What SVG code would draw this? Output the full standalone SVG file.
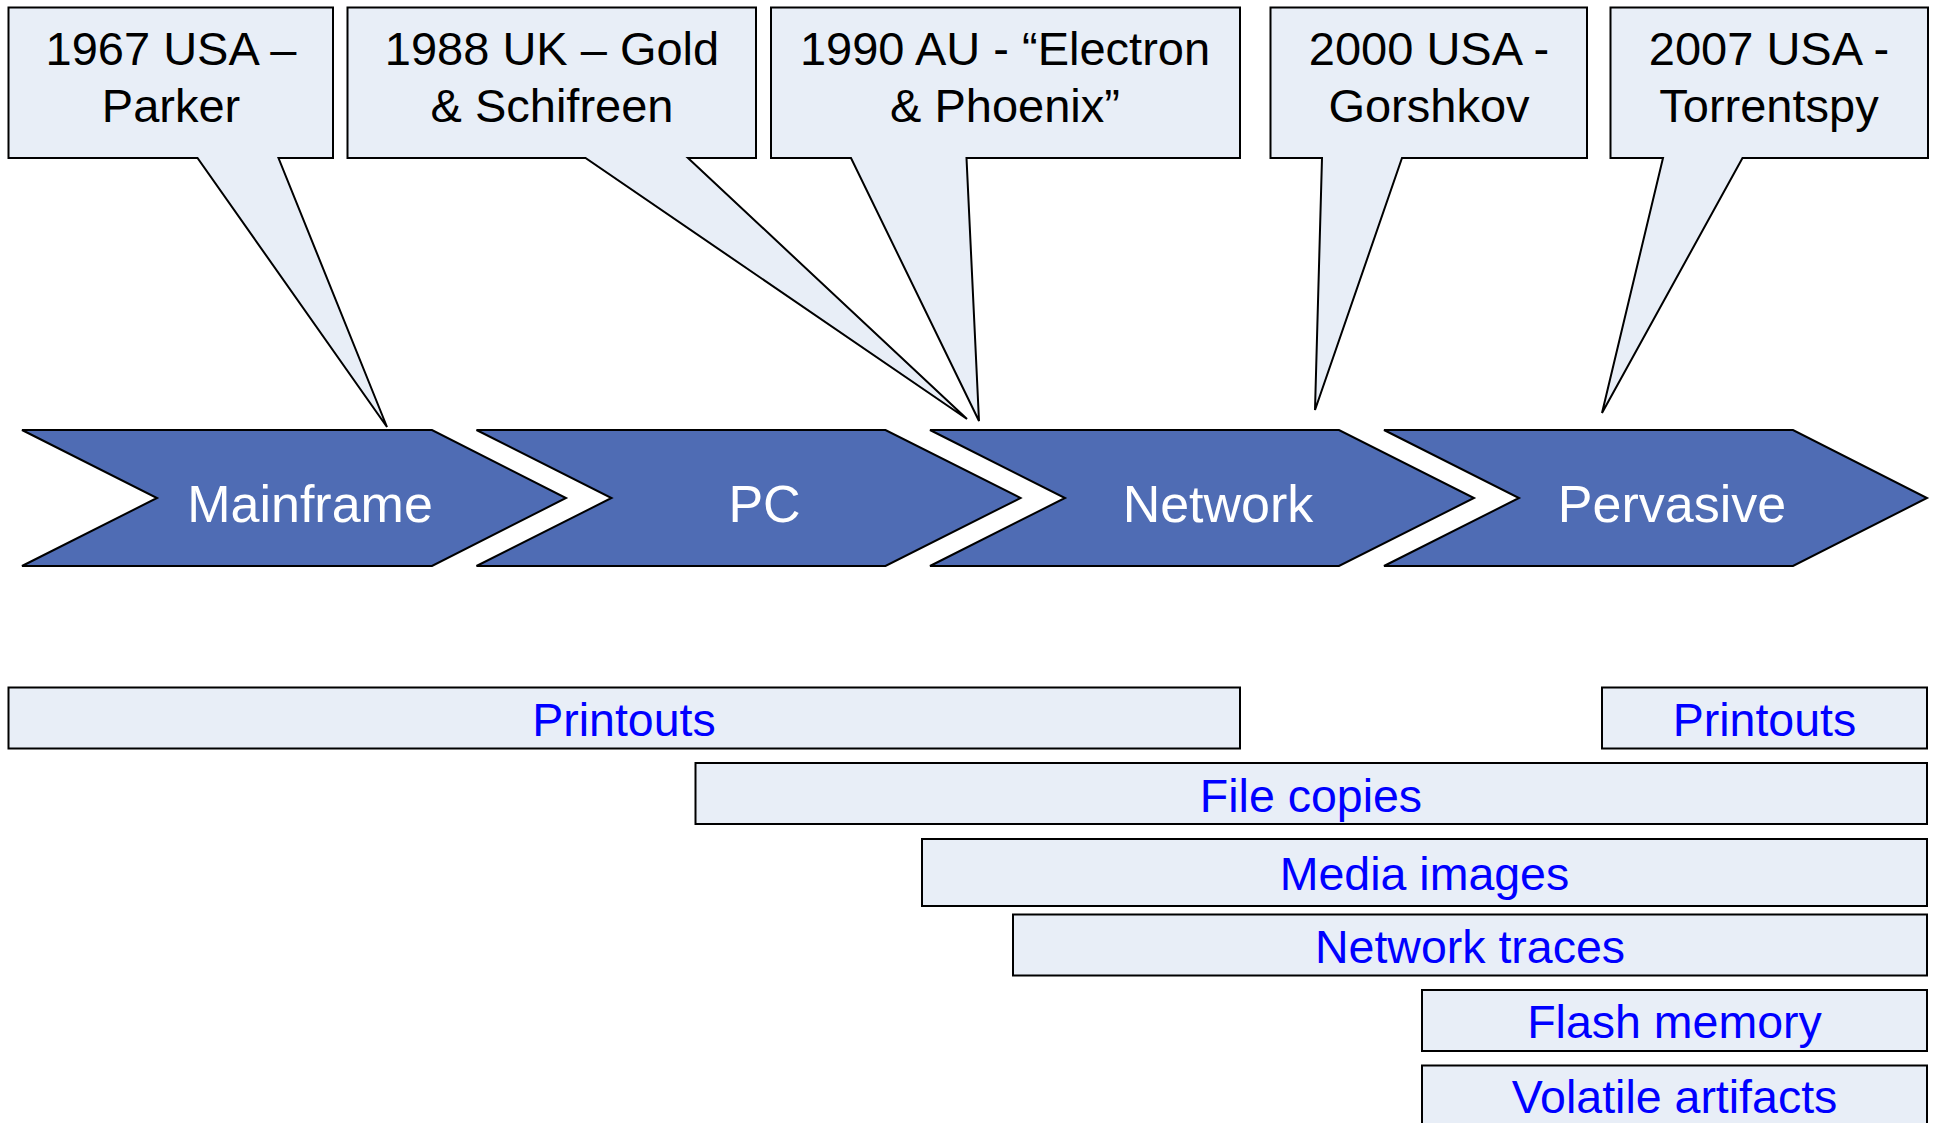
<svg xmlns="http://www.w3.org/2000/svg" width="1937" height="1123" viewBox="0 0 1937 1123">
<style>
.callout{fill:#E8EEF7;stroke:#000;stroke-width:2;stroke-linejoin:miter}
.ct{font-family:"Liberation Sans",Arial,sans-serif;font-size:47px;fill:#000;text-anchor:middle}
.chev{fill:#4F6CB4;stroke:#000;stroke-width:2}
.cht{font-family:"Liberation Sans",Arial,sans-serif;font-size:52px;fill:#fff;text-anchor:middle}
.bar{fill:#E8EEF7;stroke:#000;stroke-width:2}
.bt{font-family:"Liberation Sans",Arial,sans-serif;font-size:46.5px;fill:#0000FF;text-anchor:middle}
</style>
<rect width="1937" height="1123" fill="#fff"/>
<g id="stages">
<g id="stage-mainframe"><polygon class="chev" points="22,430 432,430 566,498 432,566 22,566 157,498"/><text class="cht" x="310" y="521.5">Mainframe</text></g>
<g id="stage-pc"><polygon class="chev" points="476.5,430 885.5,430 1020.5,498 885.5,566 476.5,566 611.5,498"/><text class="cht" x="764.5" y="521.5">PC</text></g>
<g id="stage-network"><polygon class="chev" points="930,430 1339,430 1474,498 1339,566 930,566 1065,498"/><text class="cht" x="1218" y="521.5">Network</text></g>
<g id="stage-pervasive"><polygon class="chev" points="1384,430 1793,430 1927,498 1793,566 1384,566 1519,498"/><text class="cht" x="1672" y="521.5">Pervasive</text></g>
</g>
<g id="callouts">
<g id="callout-1967"><path class="callout" d="M8.5,7.5 H333 V158 H278.5 L387,427 L197.5,158 H8.5 Z"/><text class="ct" x="171" y="65">1967 USA –</text><text class="ct" x="171" y="121.5">Parker</text></g>
<g id="callout-1988"><path class="callout" d="M347.5,7.5 H756 V158 H688 L967,419 L585.5,158 H347.5 Z"/><text class="ct" x="552" y="65">1988 UK – Gold</text><text class="ct" x="552" y="121.5">&amp; Schifreen</text></g>
<g id="callout-1990"><path class="callout" d="M771,7.5 H1240 V158 H966.5 L979,421 L851,158 H771 Z"/><text class="ct" x="1005" y="65">1990 AU - “Electron</text><text class="ct" x="1005" y="121.5">&amp; Phoenix”</text></g>
<g id="callout-2000"><path class="callout" d="M1270.5,7.5 H1587 V158 H1402 L1315,410 L1322,158 H1270.5 Z"/><text class="ct" x="1429" y="65">2000 USA -</text><text class="ct" x="1429" y="121.5">Gorshkov</text></g>
<g id="callout-2007"><path class="callout" d="M1610.5,7.5 H1928 V158 H1742.5 L1602,413 L1663,158 H1610.5 Z"/><text class="ct" x="1769" y="65">2007 USA -</text><text class="ct" x="1769" y="121.5">Torrentspy</text></g>
</g>
<g id="evidence">
<g id="bar-printouts-1"><rect class="bar" x="8.5" y="687.5" width="1231.5" height="61"/><text class="bt" x="624" y="735.5">Printouts</text></g>
<g id="bar-printouts-2"><rect class="bar" x="1602" y="687.5" width="325" height="61"/><text class="bt" x="1764.5" y="735.5">Printouts</text></g>
<g id="bar-file-copies"><rect class="bar" x="695.5" y="763" width="1231.5" height="61"/><text class="bt" x="1311" y="811.5">File copies</text></g>
<g id="bar-media-images"><rect class="bar" x="922" y="839" width="1005" height="67"/><text class="bt" x="1424.5" y="890">Media images</text></g>
<g id="bar-network-traces"><rect class="bar" x="1013" y="914.5" width="914" height="61"/><text class="bt" x="1470" y="963">Network traces</text></g>
<g id="bar-flash-memory"><rect class="bar" x="1422" y="990" width="505" height="61"/><text class="bt" x="1674.5" y="1038">Flash memory</text></g>
<g id="bar-volatile-artifacts"><rect class="bar" x="1422" y="1065.5" width="505" height="70"/><text class="bt" x="1674.5" y="1113">Volatile artifacts</text></g>
</g>
</svg>
